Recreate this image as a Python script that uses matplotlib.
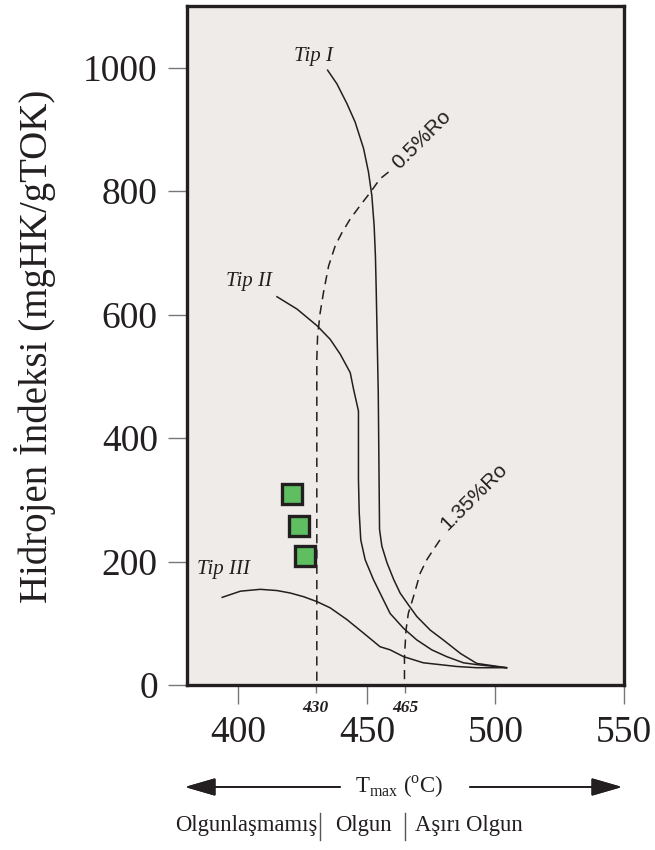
import matplotlib.pyplot as plt
from matplotlib.lines import Line2D

plt.rcParams['font.family'] = 'Liberation Serif'
plt.rcParams['mathtext.fontset'] = 'custom'
plt.rcParams['mathtext.rm'] = 'Liberation Serif'

ink = '#231f20'

# kerogen type evolution paths (Tmax in C, HI in mgHK/gTOK)
tip1_t = [434.7, 438.3, 442.2, 445.4, 448.7, 450.6, 451.9, 452.8, 453.3, 453.6, 454.4, 454.9,
          455.8, 457.8, 460.4, 462.9, 466.1, 469.4, 474.6, 479.7, 486.4, 492.7, 504.3]
tip1_hi = [996, 974, 942, 912, 869, 831, 793, 744, 695, 642, 474, 252,
           225, 198, 171, 149, 130, 111, 89, 73, 51, 35, 28]

tip2_t = [415.0, 422.8, 430.6, 435.7, 439.6, 443.5, 444.8, 446.7, 446.7, 447.0, 447.6, 449.3,
          452.5, 455.8, 459.0, 464.2, 469.4, 475.2, 481.0, 487.5, 492.7, 504.3]
tip2_hi = [629, 609, 582, 560, 536, 506, 479, 444, 333, 279, 235, 203,
           171, 143, 116, 92, 73, 57, 46, 36, 33, 28]

tip3_t = [393.7, 400.8, 408.5, 415.0, 420.2, 425.4, 430.6, 435.7, 442.2, 448.7, 455.1, 459.0,
          464.2, 471.9, 478.4, 484.9, 492.7, 504.3]
tip3_hi = [142, 152, 155, 153, 149, 143, 135, 125, 106, 84, 62, 57,
           46, 36, 33, 30, 28, 28]

# vitrinite reflectance boundaries
ro05_t = [458.4, 455.1, 451.3, 447.4, 443.5, 440.3, 437.7, 435.1, 433.1, 431.8, 430.8, 430.5, 430.5]
ro05_hi = [831, 820, 798, 777, 755, 733, 712, 679, 636, 603, 565, 528, 0]
ro135_t = [478.4, 475.8, 473.3, 470.7, 468.1, 466.1, 465.2, 464.6, 464.6]
ro135_hi = [235, 219, 203, 181, 143, 116, 89, 46, 0]

# samples
sample_t = [421.0, 423.7, 426.0]
sample_hi = [310, 258, 209]

fig = plt.figure(figsize=(6.55, 8.5), dpi=100)
ax = fig.add_axes([187 / 655, 1 - 685 / 850, (624 - 187) / 655, (685 - 6) / 850])
ax.set_facecolor('#efebe8')

for t, hi in [(tip1_t, tip1_hi), (tip2_t, tip2_hi), (tip3_t, tip3_hi)]:
    ax.plot(t, hi, color=ink, lw=1.1, solid_joinstyle='round')
for t, hi in [(ro05_t, ro05_hi), (ro135_t, ro135_hi)]:
    ax.plot(t, hi, color=ink, lw=1.1, linestyle=(0, (6, 4)))

ax.plot(sample_t, sample_hi, 's', ms=14, mfc='#5fbf60', mec=ink, mew=2.4, zorder=5)

ax.text(429.1, 1018, 'Tip I', style='italic', fontsize=15, ha='center', va='center', color=ink)
ax.text(404.3, 653, 'Tip II', style='italic', fontsize=15, ha='center', va='center', color=ink)
ax.text(394.2, 187, 'Tip III', style='italic', fontsize=15, ha='center', va='center', color=ink)
ax.text(471.3, 883, '0.5%Ro', family='Liberation Sans', fontsize=15, rotation=45,
        rotation_mode='anchor', ha='center', va='center', color=ink)
ax.text(491.7, 305, '1.35%Ro', family='Liberation Sans', fontsize=15, rotation=45,
        rotation_mode='anchor', ha='center', va='center', color=ink)

ax.set_xlim(380, 550)
ax.set_ylim(0, 1100)
ax.set_xticks([400, 450, 500, 550])
ax.set_xticks([430, 465], minor=True)
ax.set_xticklabels(['430', '465'], minor=True, fontsize=12.5, fontweight='bold', style='italic')
ax.set_yticks([0, 200, 400, 600, 800, 1000])
ax.tick_params(axis='both', which='major', labelsize=27, length=14, width=1, color='#777777',
               direction='out', labelcolor=ink)
ax.tick_params(axis='x', which='major', pad=8)
ax.tick_params(axis='y', which='major', pad=7)
ax.tick_params(axis='x', which='minor', length=6, width=1, color='#777777', pad=5, labelcolor=ink)
for s in ax.spines.values():
    s.set_linewidth(2.4)
    s.set_color(ink)

fig.text(35 / 655, 1 - 346 / 850, 'Hidrojen İndeksi (mgHK/gTOK)', rotation=90,
         fontsize=28, ha='center', va='center', color=ink)

# Tmax arrows under the axis
ay = 1 - 787 / 850
arrow = dict(arrowstyle='-|>,head_length=1.9,head_width=0.55', color=ink, lw=1.3, shrinkA=0, shrinkB=0)
fig.add_artist(plt.annotate('', xy=(185 / 655, ay), xytext=(340 / 655, ay),
                            xycoords='figure fraction', textcoords='figure fraction', arrowprops=arrow))
fig.add_artist(plt.annotate('', xy=(622 / 655, ay), xytext=(470 / 655, ay),
                            xycoords='figure fraction', textcoords='figure fraction', arrowprops=arrow))
fig.text(399 / 655, ay, r'T$_{\rm max}$ ($^{\rm o}$C)', fontsize=16.5, ha='center', va='center', color=ink)

# maturity zones
zy = 1 - 826 / 850
fig.text(317 / 655, zy, 'Olgunlaşmamış', fontsize=16.3, ha='right', va='center', color=ink)
fig.text(363 / 655, zy, 'Olgun', fontsize=16.3, ha='center', va='center', color=ink)
fig.text(415 / 655, zy, 'Aşırı Olgun', fontsize=16.3, ha='left', va='center', color=ink)
for bx in [320, 405]:
    fig.add_artist(Line2D([bx / 655, bx / 655], [1 - 813 / 850, 1 - 840 / 850], color='#555555', lw=1))

fig.savefig('out.png', dpi=100)
